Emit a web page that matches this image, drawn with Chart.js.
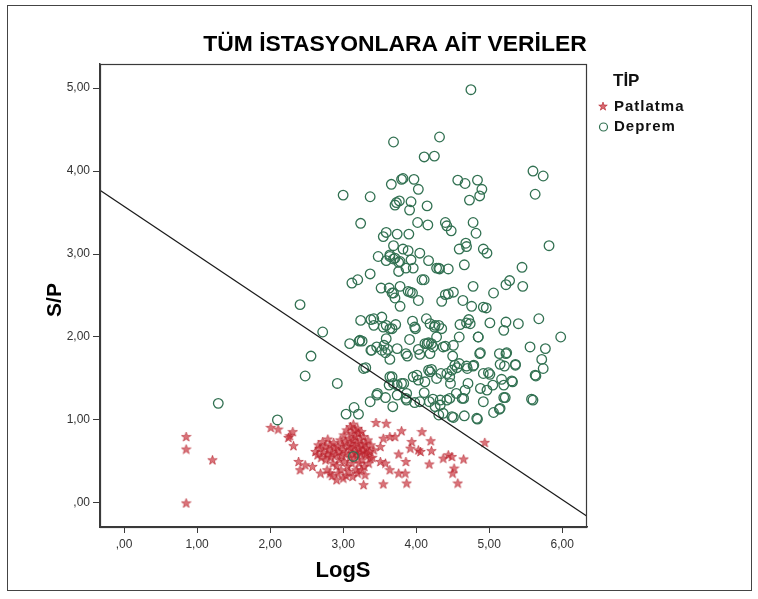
<!DOCTYPE html>
<html>
<head>
<meta charset="utf-8">
<script src="https://cdn.jsdelivr.net/npm/chart.js@4.4.1/dist/chart.umd.min.js"></script>
<style>
  html, body { margin: 0; padding: 0; background: #fff; }
  #wrap { position: relative; width: 758px; height: 599px; }
</style>
</head>
<body>
<div id="wrap"><canvas id="scatter" width="758" height="599"></canvas></div>
<script>
// ── Data ────────────────────────────────────────────────────────────────────
const chartTitle = 'TÜM İSTASYONLARA AİT VERİLER';
const xTitle = 'LogS';
const yTitle = 'S/P';
const legendTitle = 'TİP';
const seriesNames = ['Patlatma', 'Deprem'];

const xTicks = [0, 1, 2, 3, 4, 5, 6];
const yTicks = [0, 1, 2, 3, 4, 5];
const xRange = [-0.33, 6.34];
const yRange = [-0.29, 5.29];

// discriminant line  S/P = a + b * LogS
const lineIntercept = 3.575;
const lineSlope = -0.589;

// [LogS, S/P]
const patlatmaPoints = [
  [0.85, 0.80], [0.85, 0.65], [1.21, 0.52], [0.85, 0.00],
  [2.01, 0.91], [2.11, 0.89], [2.31, 0.86], [2.27, 0.81], [2.25, 0.79], [2.32, 0.69],
  [2.39, 0.50], [2.41, 0.40], [2.48, 0.46], [2.58, 0.44], [2.69, 0.36], [2.82, 0.36],
  [2.91, 0.28], [3.04, 0.33],
  [3.45, 0.97], [3.59, 0.96], [3.80, 0.87], [4.08, 0.86], [4.20, 0.75],
  [3.94, 0.74], [3.92, 0.66], [4.03, 0.64], [4.06, 0.62], [4.21, 0.63], [3.76, 0.59],
  [3.86, 0.50], [4.18, 0.47], [4.37, 0.54], [4.44, 0.58], [4.49, 0.56], [4.65, 0.53],
  [4.52, 0.42], [4.50, 0.36], [4.57, 0.24], [4.94, 0.73], [3.87, 0.24], [3.55, 0.23],
  [3.28, 0.22], [3.30, 0.34], [3.51, 0.50], [3.58, 0.48], [3.64, 0.40], [3.76, 0.36],
  [3.85, 0.36], [3.55, 0.78], [3.64, 0.80], [3.71, 0.80], [3.51, 0.68], [3.42, 0.64],
  [3.32, 0.60], [3.37, 0.54],
  [2.62, 0.62], [2.65, 0.58], [2.66, 0.70], [2.68, 0.66], [2.70, 0.55], [2.72, 0.74],
  [2.73, 0.61], [2.75, 0.68], [2.76, 0.52], [2.78, 0.58], [2.79, 0.77], [2.80, 0.64],
  [2.82, 0.70], [2.83, 0.55], [2.85, 0.60], [2.86, 0.48], [2.87, 0.73], [2.88, 0.66],
  [2.90, 0.58], [2.91, 0.45], [2.92, 0.68], [2.94, 0.62], [2.95, 0.52], [2.96, 0.76],
  [2.97, 0.40], [2.98, 0.57], [2.99, 0.70],
  [3.00, 0.64], [3.01, 0.82], [3.02, 0.50], [3.03, 0.74], [3.04, 0.60], [3.05, 0.88],
  [3.06, 0.44], [3.07, 0.68], [3.08, 0.78], [3.09, 0.55], [3.10, 0.92], [3.10, 0.65],
  [3.11, 0.72], [3.12, 0.84], [3.12, 0.48], [3.13, 0.60], [3.14, 0.95], [3.14, 0.76],
  [3.15, 0.68], [3.16, 0.88], [3.16, 0.54], [3.17, 0.80], [3.18, 0.62], [3.18, 0.40],
  [3.19, 0.72], [3.20, 0.90], [3.20, 0.58], [3.21, 0.84], [3.22, 0.66], [3.22, 0.48],
  [3.23, 0.76], [3.24, 0.60], [3.25, 0.86], [3.26, 0.70], [3.26, 0.52], [3.27, 0.64],
  [3.28, 0.80], [3.29, 0.44], [3.30, 0.72], [3.31, 0.58], [3.32, 0.66], [3.34, 0.76],
  [3.35, 0.48], [3.36, 0.62], [3.38, 0.70], [3.40, 0.55],
  [2.78, 0.40], [2.85, 0.33], [2.93, 0.36], [3.00, 0.30], [3.08, 0.38], [3.13, 0.32],
  [3.20, 0.36], [3.25, 0.40]
];

const depremPoints = [
  [4.75, 4.98], [3.69, 4.35], [4.32, 4.41], [4.11, 4.17], [4.25, 4.18], [5.60, 4.00],
  [5.74, 3.94], [5.63, 3.72], [3.66, 3.84], [3.80, 3.90], [3.82, 3.91], [3.97, 3.90],
  [4.03, 3.78], [4.57, 3.89], [4.67, 3.85], [4.84, 3.89], [4.90, 3.78], [4.87, 3.70],
  [4.73, 3.65], [3.00, 3.71], [3.37, 3.69], [3.77, 3.64], [3.71, 3.59], [3.73, 3.62],
  [3.93, 3.63], [3.91, 3.53], [4.15, 3.58], [3.24, 3.37], [4.02, 3.38], [4.16, 3.35],
  [4.40, 3.38], [4.42, 3.34], [4.48, 3.28], [4.78, 3.38], [4.82, 3.25], [3.59, 3.26],
  [3.55, 3.21], [3.74, 3.24], [3.90, 3.24], [4.68, 3.13], [4.69, 3.09], [4.59, 3.06],
  [4.92, 3.06], [4.97, 3.01], [5.82, 3.10], [3.48, 2.97], [3.69, 3.10], [3.59, 2.92],
  [3.64, 2.97], [3.69, 2.94], [3.76, 2.90], [3.82, 3.06], [3.89, 3.04], [3.93, 2.93],
  [4.05, 3.01], [4.17, 2.92], [3.86, 2.83], [3.76, 2.79], [4.28, 2.83], [4.32, 2.82],
  [4.44, 2.82], [4.66, 2.87], [5.45, 2.84], [5.46, 2.61], [3.12, 2.65], [3.20, 2.69],
  [3.37, 2.76], [3.52, 2.59], [3.63, 2.59], [3.69, 2.53], [3.78, 2.61], [3.71, 2.47],
  [3.78, 2.37], [3.92, 2.54], [3.95, 2.53], [4.03, 2.44], [4.08, 2.69], [4.11, 2.69],
  [4.35, 2.43], [4.40, 2.51], [4.44, 2.52], [4.51, 2.54], [4.64, 2.44], [4.78, 2.61],
  [4.76, 2.37], [4.96, 2.35], [5.06, 2.53], [5.23, 2.63], [5.28, 2.68], [2.41, 2.39],
  [3.24, 2.20], [3.38, 2.21], [3.42, 2.14], [3.53, 2.24], [3.55, 2.12], [3.59, 2.14],
  [3.64, 2.10], [3.72, 2.15], [3.95, 2.19], [3.98, 2.12], [4.14, 2.22], [4.19, 2.16],
  [4.25, 2.12], [4.31, 2.14], [4.35, 2.10], [4.60, 2.15], [4.72, 2.21], [4.69, 2.17],
  [5.01, 2.17], [5.23, 2.18], [5.20, 2.08], [5.40, 2.16], [5.68, 2.22], [5.98, 2.00],
  [2.72, 2.06], [3.09, 1.92], [3.22, 1.95], [3.26, 1.95], [3.38, 1.84], [3.46, 1.88],
  [3.53, 1.84], [3.58, 1.81], [3.56, 1.90], [3.59, 1.98], [3.61, 1.85], [3.64, 1.73],
  [3.86, 1.80], [3.88, 1.77], [3.91, 1.97], [4.03, 1.85], [4.05, 1.79], [4.12, 1.92],
  [4.17, 1.93], [4.21, 1.92], [4.23, 1.88], [4.19, 1.80], [4.28, 2.00], [4.40, 1.89],
  [4.50, 1.77], [4.59, 2.00], [4.59, 1.68], [4.53, 1.66], [4.56, 1.63], [4.69, 1.65],
  [4.78, 1.65], [4.85, 2.00], [4.87, 1.80], [5.14, 1.80], [5.23, 1.80], [5.15, 1.67],
  [5.21, 1.65], [5.36, 1.67], [5.56, 1.88], [5.77, 1.86], [5.72, 1.73], [5.74, 1.62],
  [5.63, 1.54], [5.64, 1.53], [2.56, 1.77], [3.31, 1.63], [2.48, 1.53], [2.92, 1.44],
  [3.47, 1.32], [3.58, 1.27], [3.64, 1.52], [3.63, 1.42], [3.69, 1.44], [3.74, 1.42],
  [3.80, 1.44], [3.87, 1.32], [3.86, 1.26], [3.98, 1.21], [4.01, 1.54], [4.03, 1.48],
  [4.12, 1.46], [4.11, 1.33], [4.17, 1.60], [4.21, 1.61], [4.18, 1.22], [4.23, 1.25],
  [4.26, 1.16], [4.33, 1.18], [4.34, 1.56], [4.46, 1.52], [4.49, 1.60], [4.42, 1.24],
  [4.46, 1.26], [4.37, 1.08], [4.51, 1.03], [4.55, 1.32], [4.63, 1.26], [4.67, 1.36],
  [4.71, 1.44], [4.66, 1.05], [4.84, 1.01], [4.92, 1.22], [4.88, 1.38], [4.97, 1.36],
  [4.92, 1.56], [4.99, 1.57], [5.05, 1.42], [5.06, 1.09], [5.14, 1.13], [5.17, 1.49],
  [5.22, 1.27], [5.32, 1.46], [5.58, 1.25], [5.60, 1.24], [3.37, 1.22], [3.68, 1.16],
  [3.15, 1.15], [3.04, 1.07], [3.21, 1.07], [2.10, 1.00], [1.29, 1.20], [3.14, 0.56],
  [3.64, 2.99], [3.71, 2.95], [3.78, 2.91], [3.96, 2.83], [3.67, 2.53], [3.89, 2.55],
  [4.31, 2.83], [3.42, 2.22], [3.67, 2.10], [3.99, 2.10], [4.26, 2.14], [3.23, 1.96],
  [3.39, 1.84], [3.74, 1.86], [4.15, 1.92], [4.37, 1.88], [4.51, 1.90], [3.28, 1.62],
  [3.67, 1.52], [3.83, 1.44], [3.96, 1.52], [4.19, 1.58], [4.28, 1.50], [4.42, 1.56],
  [4.47, 1.44], [3.46, 1.30], [3.74, 1.30], [3.87, 1.24], [4.05, 1.22], [4.33, 1.24],
  [4.31, 1.06], [4.49, 1.04], [4.92, 2.36], [4.74, 2.16], [4.85, 2.00], [4.88, 1.81],
  [5.24, 1.81], [5.36, 1.66], [5.01, 1.55], [5.31, 1.47], [5.20, 1.42], [4.65, 1.26],
  [5.20, 1.27], [5.15, 1.14], [4.83, 1.02], [4.79, 1.66], [4.70, 1.62]
];

// ── Styling ─────────────────────────────────────────────────────────────────
const FONT = "'Liberation Sans', Arial, sans-serif";
const STAR_RED = '#b3222c';
const RING_GREEN = '#327152';
const AXIS_DARK = '#3a3a3a';

function makeStar(size, fill, stroke) {
  const c = document.createElement('canvas');
  c.width = c.height = size;
  const g = c.getContext('2d');
  const cx = size / 2, cy = size / 2 + 0.5;
  const R = size / 2 - 0.5, r = R * 0.4;
  g.beginPath();
  for (let i = 0; i < 10; i++) {
    const a = -Math.PI / 2 + i * Math.PI / 5;
    const rr = i % 2 ? r : R;
    g.lineTo(cx + rr * Math.cos(a), cy + rr * Math.sin(a));
  }
  g.closePath();
  g.fillStyle = fill;
  g.fill();
  g.strokeStyle = stroke;
  g.lineWidth = 0.6;
  g.stroke();
  return c;
}

const starImg = makeStar(11, 'rgba(200,40,50,0.65)', STAR_RED);
const legendStar = makeStar(10, 'rgba(200,40,50,0.7)', STAR_RED);

const toPts = arr => arr.map(p => ({ x: p[0], y: p[1] }));
const lineAt = x => ({ x: x, y: lineIntercept + lineSlope * x });
const commaFmt = v => v === 0 ? ',00' : v.toFixed(2).replace('.', ',');

// ── Decorations: frame, titles, legend ──────────────────────────────────────
const decor = {
  id: 'decor',
  beforeDraw(chart) {
    const ctx = chart.ctx;
    ctx.save();
    ctx.fillStyle = '#fff';
    ctx.fillRect(0, 0, chart.width, chart.height);
    ctx.strokeStyle = '#444';
    ctx.lineWidth = 1;
    ctx.strokeRect(7.5, 5.5, 744, 585);
    ctx.restore();
  },
  afterDraw(chart) {
    const ctx = chart.ctx;
    const a = chart.chartArea;
    ctx.save();
    // plot box
    ctx.strokeStyle = AXIS_DARK;
    ctx.lineWidth = 1.2;
    ctx.strokeRect(Math.round(a.left) + 0.5, Math.round(a.top) + 0.5,
      Math.round(a.right - a.left) - 1, Math.round(a.bottom - a.top));

    ctx.fillStyle = '#000';
    ctx.textAlign = 'center';
    ctx.textBaseline = 'middle';
    ctx.font = 'bold 22px ' + FONT;
    ctx.save();
    ctx.translate(395, 45);
    ctx.scale(1.04, 1);
    ctx.fillText(chartTitle, 0, 0);
    ctx.restore();

    ctx.font = 'bold 22px ' + FONT;
    ctx.fillText(xTitle, 343, 571);

    ctx.save();
    ctx.translate(55, 300);
    ctx.rotate(-Math.PI / 2);
    ctx.font = 'bold 21px ' + FONT;
    ctx.fillText(yTitle, 0, 0);
    ctx.restore();

    // legend
    ctx.textAlign = 'left';
    ctx.font = 'bold 17px ' + FONT;
    ctx.fillStyle = '#111';
    ctx.fillText(legendTitle, 613, 81);
    ctx.font = 'bold 15px ' + FONT;
    ctx.letterSpacing = '1px';
    ctx.fillText(seriesNames[0], 614, 107);
    ctx.fillText(seriesNames[1], 614, 127);
    ctx.letterSpacing = '0px';
    ctx.drawImage(legendStar, 598, 101);
    ctx.beginPath();
    ctx.arc(603.5, 127, 4, 0, Math.PI * 2);
    ctx.strokeStyle = RING_GREEN;
    ctx.lineWidth = 1.2;
    ctx.stroke();
    ctx.restore();
  }
};

// ── Chart ───────────────────────────────────────────────────────────────────
const tickStyle = { font: { family: FONT, size: 12 }, color: '#333' };

new Chart(document.getElementById('scatter').getContext('2d'), {
  type: 'scatter',
  data: {
    datasets: [
      {
        type: 'line',
        label: 'line',
        data: [lineAt(xRange[0]), lineAt(xRange[1])],
        borderColor: '#1a1a1a',
        borderWidth: 1.2,
        pointRadius: 0,
        fill: false,
        order: 0
      },
      {
        label: seriesNames[0],
        data: toPts(patlatmaPoints),
        pointStyle: starImg,
        pointRadius: 5.5,
        order: 2
      },
      {
        label: seriesNames[1],
        data: toPts(depremPoints),
        pointStyle: 'circle',
        pointRadius: 4.8,
        borderColor: RING_GREEN,
        borderWidth: 1.3,
        backgroundColor: 'rgba(0,0,0,0)',
        order: 1
      }
    ]
  },
  options: {
    responsive: false,
    devicePixelRatio: 1,
    animation: false,
    layout: { padding: { left: 0, top: 64, right: 171, bottom: 0 } },
    plugins: {
      legend: { display: false },
      tooltip: { enabled: false },
      title: { display: false }
    },
    scales: {
      x: {
        type: 'linear',
        min: xRange[0],
        max: xRange[1],
        afterBuildTicks: s => { s.ticks = xTicks.map(v => ({ value: v })); },
        afterFit: s => { s.height = 72; },
        grid: { drawOnChartArea: false, drawTicks: true, tickLength: 6, color: AXIS_DARK },
        border: { display: true, color: AXIS_DARK, width: 1.5 },
        ticks: { ...tickStyle, padding: 4, maxRotation: 0, callback: commaFmt }
      },
      y: {
        type: 'linear',
        min: yRange[0],
        max: yRange[1],
        afterBuildTicks: s => { s.ticks = yTicks.map(v => ({ value: v })); },
        afterFit: s => { s.width = 100; },
        grid: { drawOnChartArea: false, drawTicks: true, tickLength: 7, color: AXIS_DARK },
        border: { display: true, color: AXIS_DARK, width: 1.5 },
        ticks: { ...tickStyle, padding: 3, callback: commaFmt }
      }
    }
  },
  plugins: [decor]
});
</script>
</body>
</html>
